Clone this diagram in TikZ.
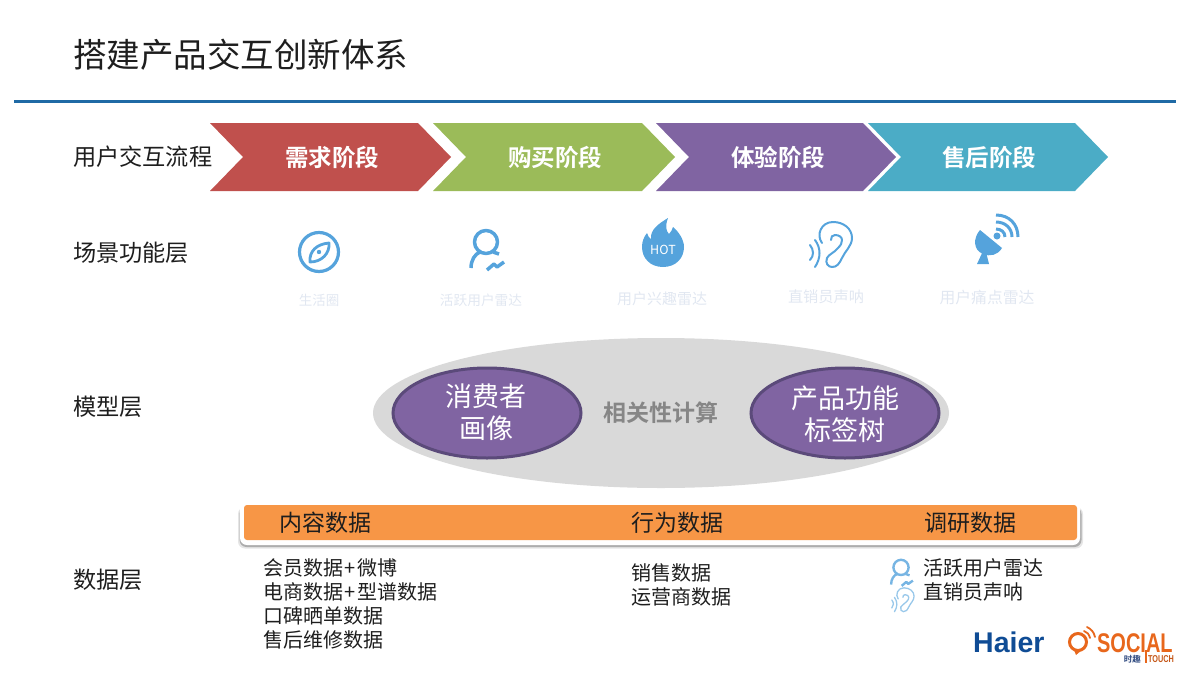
\documentclass[tikz,border=0pt]{standalone}
\usetikzlibrary{shapes.geometric}
\usepackage{fontspec}
\setmainfont{Noto Sans CJK SC}[BoldFont={Noto Sans CJK SC Bold}]
\newfontfamily\latinb{Liberation Sans}
\definecolor{rulec}{HTML}{1F6AA5}
\definecolor{chA}{HTML}{C0504D}
\definecolor{chB}{HTML}{9BBB59}
\definecolor{chC}{HTML}{8064A2}
\definecolor{chD}{HTML}{4BACC6}
\definecolor{iconc}{HTML}{55A3DC}
\definecolor{palet}{HTML}{E1E7F1}
\definecolor{oval}{HTML}{D9D9D9}
\definecolor{ovaledge}{HTML}{5B4A7A}
\definecolor{barc}{HTML}{F79646}
\definecolor{ink}{HTML}{1E1E1E}
\definecolor{haierc}{HTML}{0F4C95}
\definecolor{socialc}{HTML}{E8671C}
\definecolor{shiquc}{HTML}{2F4A80}
\newcommand{\userlw}{3.5pt}
\newcommand{\earlw}{2pt}
\newcommand{\plusk}{\kern1.5pt+\kern1.5pt}
\tikzset{
  titletext/.style={anchor=west,text=ink,inner sep=0pt,font=\fontsize{33.5}{38}\selectfont},
  rowtext/.style={anchor=west,text=ink,inner sep=0pt,font=\fontsize{23.2}{28}\selectfont},
  chevlabel/.style={text=white,inner sep=0pt,font=\bfseries\fontsize{23.5}{28}\selectfont},
  palelabel/.style={text=palet,inner sep=0pt},
  ovaltext/.style={text=white,inner sep=0pt,align=center,font=\fontsize{27}{32}\selectfont},
  bartext/.style={anchor=west,text=ink,inner sep=0pt,font=\fontsize{23}{28}\selectfont},
  listtext/.style={anchor=north west,text=ink,inner sep=0pt,align=left,font=\fontsize{20}{24}\selectfont},
  iconline/.style={draw=iconc,line width=3pt,line join=round,fill=none},
  pics/usericon/.style={code={
    \draw[iconline,draw=#1,line width=\userlw] (0,-10) circle[radius=11.5];
    \draw[iconline,draw=#1,line width=\userlw,line cap=butt] (-15,16) .. controls (-15,8) and (-11,2) .. (-6,0);
    \draw[iconline,draw=#1,line width=\userlw,line cap=butt] (7,0) -- (13,2);
    \draw[iconline,draw=#1,line width=\userlw] (1,18) -- (8,12) -- (11,15) -- (18,10);
  }},
  pics/earicon/.style={code={
    \draw[draw=#1,line width=\earlw,line cap=round,line join=round]
      (-11,-2) .. controls (-17,-10) and (-12,-23) .. (0,-23)
      .. controls (11,-23) and (19,-16) .. (19,-7)
      .. controls (19,1) and (12,6) .. (9,13)
      .. controls (6,19) and (4,22) .. (-1,22)
      .. controls (-5,22) and (-8,18) .. (-6,13)
      .. controls (-4,9) and (1,8) .. (5,3)
      .. controls (8,0) and (9,-2) .. (9,-5)
      .. controls (9,-8) and (6,-10) .. (2,-10)
      .. controls (-1,-10) and (-2,-8) .. (-2,-5);
    \draw[draw=#1,line width=\earlw,line cap=round] (-18,-5) .. controls (-12,3) and (-12,13) .. (-18,22);
    \draw[draw=#1,line width=\earlw,line cap=round] (-23,0) .. controls (-19,5) and (-19,11) .. (-23,15);
  }},
}
\begin{document}
\begin{tikzpicture}[x=1pt,y=-1pt]
\useasboundingbox (0,0) rectangle (1200,675);
% title
\node[titletext] (title) at (73,55) {搭建产品交互创新体系};
\coordinate (ruleL) at (14,101);
\coordinate (ruleR) at (1176,101);
\draw[rulec,line width=3pt] (ruleL) -- (ruleR);
% rows
\node[rowtext] (r1) at (73,157) {用户交互流程};
\node[rowtext] (r2) at (73,253) {场景功能层};
\node[rowtext] (r3) at (73,407) {模型层};
\node[rowtext] (r4) at (73,580) {数据层};
% chevrons
\fill[chA] (210,123) -- (418,123) -- (451,157) -- (418,191) -- (210,191) -- (243,157) -- cycle;
\fill[chB] (433,123) -- (642,123) -- (675,157) -- (642,191) -- (433,191) -- (466,157) -- cycle;
\fill[chC] (656,123) -- (863,123) -- (896,157) -- (863,191) -- (656,191) -- (689,157) -- cycle;
\fill[chD] (868,123) -- (1075,123) -- (1108,157) -- (1075,191) -- (868,191) -- (901,157) -- cycle;
\node[chevlabel] (c1) at (332,157) {需求阶段};
\node[chevlabel] (c2) at (555,157) {购买阶段};
\node[chevlabel] (c3) at (778,157) {体验阶段};
\node[chevlabel] (c4) at (989,157) {售后阶段};
% compass icon
\draw[iconline,line width=3.2pt] (319,252) circle[radius=19.5];
\draw[iconline,line width=2.8pt] (310,262) .. controls (309,251) and (317,244) .. (329,243) .. controls (330,253) and (322,262) .. (310,262) -- cycle;
\fill[iconc] (319,252) circle[radius=2.2];
% user icon
\pic at (486,252) {usericon=iconc};
% flame icon
\fill[iconc] (663,267) .. controls (650,267) and (642,258) .. (642,247)
  .. controls (642,241) and (644,237) .. (647,233)
  .. controls (648,236) and (649,238) .. (651,239)
  .. controls (650,230) and (658,224) .. (668,218)
  .. controls (665,226) and (666,231) .. (669,234)
  .. controls (671,232) and (672,230) .. (673,227)
  .. controls (679,232) and (684,240) .. (684,247)
  .. controls (684,258) and (676,267) .. (663,267) -- cycle;
\node[text=white,inner sep=0pt,font=\fontsize{12.5}{14}\selectfont] (hot) at (663,250) {HOT};
% ear icon
\pic at (833,245) {earicon=iconc};
% dish icon
\fill[iconc] (977,264) -- (983,251) -- (986,252) -- (989,264) -- cycle;
\fill[iconc] (980,230) .. controls (973,238) and (973,250) .. (983,254) .. controls (990,257) and (998,255) .. (1002,248) -- cycle;
\fill[iconc] (997,236) circle[radius=3.5];
\draw[iconline,line cap=butt] (996,229) .. controls (1001,229) and (1005,232) .. (1005,237);
\draw[iconline,line cap=butt] (996,222) .. controls (1005,222) and (1012,228) .. (1012,237);
\draw[iconline,line cap=butt] (996,215) .. controls (1009,215) and (1018,224) .. (1018,237);
% pale labels
\node[palelabel,font=\fontsize{13.5}{16}\selectfont] (l1) at (319,300) {生活圈};
\node[palelabel,font=\fontsize{13.7}{16}\selectfont] (l2) at (481,300) {活跃用户雷达};
\node[palelabel,font=\fontsize{15}{18}\selectfont] (l3) at (662,299) {用户兴趣雷达};
\node[palelabel,font=\fontsize{15.2}{18}\selectfont] (l4) at (826,297) {直销员声呐};
\node[palelabel,font=\fontsize{15.8}{18}\selectfont] (l5) at (987,297) {用户痛点雷达};
% model layer
\node[ellipse,fill=oval,minimum width=576pt,minimum height=150pt,inner sep=0pt] (big) at (661,413) {};
\node[ellipse,fill=chC,draw=ovaledge,line width=3pt,minimum width=188pt,minimum height=90pt,inner sep=0pt] (e1) at (487,413) {};
\node[ellipse,fill=chC,draw=ovaledge,line width=3pt,minimum width=188pt,minimum height=90pt,inner sep=0pt] (e2) at (845,413) {};
\node[ovaltext] (e1t) at (486,412) {消费者\\画像};
\node[ovaltext] (e2t) at (845,414) {产品功能\\标签树};
\node[text=gray!95,inner sep=0pt,font=\bfseries\fontsize{23}{28}\selectfont] (mid) at (661,413) {相关性计算};
% data bar
\fill[black!10,rounded corners=7pt] (238,507) rectangle (1083,548.5);
\fill[black!32,rounded corners=7pt] (239.5,507) rectangle (1081.5,547);
\fill[white,rounded corners=7pt] (240,502) rectangle (1080,545);
\fill[barc,rounded corners=3pt] (244,505) rectangle (1077,540);
\node[bartext] (b1) at (279,523) {内容数据};
\node[bartext] (b2) at (631,523) {行为数据};
\node[bartext] (b3) at (924,523) {调研数据};
% lists
\node[listtext,yshift=-2pt] (d1) at (263,556) {会员数据\plusk 微博\\电商数据\plusk 型谱数据\\口碑晒单数据\\售后维修数据};
\node[listtext,yshift=-2pt] (d2) at (631,561) {销售数据\\运营商数据};
\node[listtext,yshift=-2pt] (d3) at (923,556) {活跃用户雷达\\直销员声呐};
\begin{scope}
\renewcommand{\userlw}{2.4pt}
\renewcommand{\earlw}{1.3pt}
\pic[scale=.66] at (901,574) {usericon=iconc!80};
\pic[scale=.53] at (904,600) {earicon=iconc!60};
\end{scope}
% logos
\node[anchor=west,inner sep=0pt,text=haierc,font=\latinb\bfseries\fontsize{28.5}{32}\selectfont] (haier) at (973,642) {Haier};
\draw[socialc,line width=3pt] (1078,642) circle[radius=8.5];
\fill[socialc] (1074,650) -- (1082,650) -- (1076,655) -- cycle;
\draw[socialc,line width=1.8pt,line cap=round] (1087,627) .. controls (1091,629) and (1094,632) .. (1095,637);
\draw[socialc,line width=1.8pt,line cap=round] (1084,631) .. controls (1087,632) and (1089,634) .. (1090,638);
\node[anchor=base west,inner sep=0pt,text height=19pt,text depth=0pt,text=socialc,font=\latinb\bfseries\fontsize{27}{29}\selectfont,xscale=.74] (social) at (1097,652) {SOCIAL};
\coordinate (barTop) at (1146,650);
\coordinate (barBot) at (1146,663);
\draw[socialc,line width=2pt] (barTop) -- (barBot);
\node[anchor=east,inner sep=0pt,text height=7pt,text depth=0pt,text=shiquc,font=\bfseries\fontsize{8.5}{10}\selectfont] (shiqu) at (1141,659) {时趣};
\node[anchor=west,inner sep=0pt,text height=7pt,text depth=0pt,text=socialc!85!black,font=\latinb\bfseries\fontsize{10}{11}\selectfont,xscale=.73] (touch) at (1148,659) {TOUCH};
\end{tikzpicture}
\end{document}
